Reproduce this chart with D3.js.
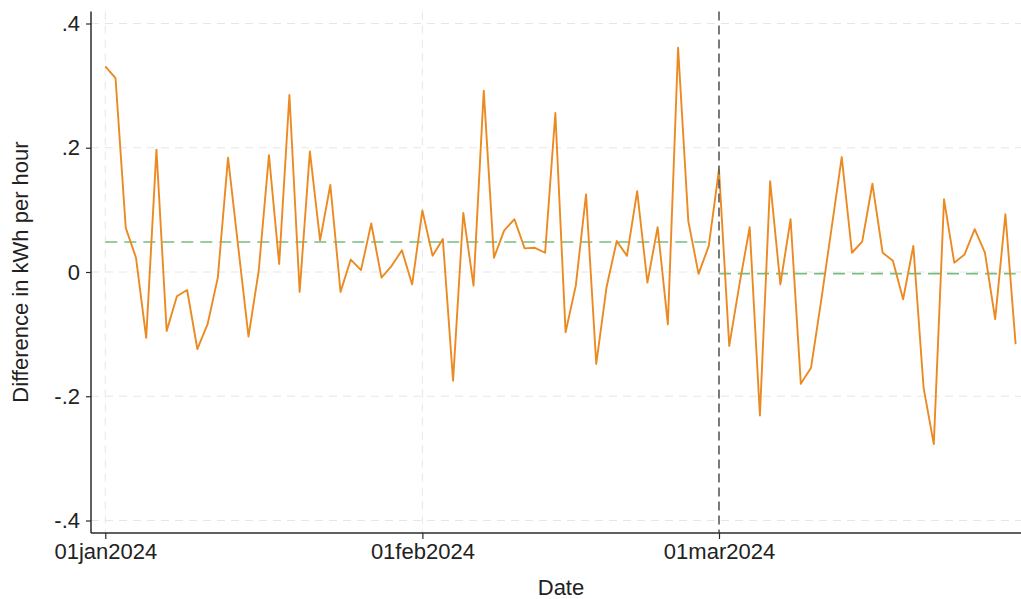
<!DOCTYPE html>
<html>
<head>
<meta charset="utf-8">
<script src="https://cdn.jsdelivr.net/npm/d3@7"></script>
<style>
  html, body { margin: 0; padding: 0; background: #fff; }
  svg { display: block; font-family: "Liberation Sans", Arial, Helvetica, sans-serif; }
</style>
</head>
<body>
<svg id="chart" width="1021" height="599"></svg>
<script>
// Daily difference in electricity use (kWh per hour), 1 Jan – 30 Mar 2024
const startDay = "2024-01-01";
const breakDay = "2024-03-01";
const dailyDiff = [
  0.331, 0.312, 0.071, 0.023, -0.106, 0.197, -0.095, -0.039, -0.029, -0.124,
  -0.084, -0.009, 0.184, 0.040, -0.104, 0.002, 0.188, 0.013, 0.285, -0.032,
  0.194, 0.051, 0.140, -0.032, 0.020, 0.003, 0.078, -0.009, 0.010, 0.035,
  -0.020, 0.099, 0.026, 0.053, -0.175, 0.095, -0.022, 0.292, 0.023, 0.067,
  0.085, 0.038, 0.039, 0.031, 0.256, -0.097, -0.022, 0.125, -0.148, -0.025,
  0.050, 0.026, 0.130, -0.017, 0.072, -0.084, 0.361, 0.082, -0.003, 0.042,
  0.165, -0.119, -0.020, 0.072, -0.231, 0.146, -0.020, 0.085, -0.180, -0.154,
  -0.045, 0.070, 0.185, 0.031, 0.049, 0.142, 0.031, 0.018, -0.044, 0.042,
  -0.186, -0.277, 0.117, 0.015, 0.028, 0.069, 0.031, -0.076, 0.093, -0.116
];
const yTicks = [-0.4, -0.2, 0, 0.2, 0.4];
const yTickLabels = ["-.4", "-.2", "0", ".2", ".4"];
const xTickDays = ["2024-01-01", "2024-02-01", "2024-03-01"];
const xTickLabels = ["01jan2024", "01feb2024", "01mar2024"];

const parseDay = d3.utcParse("%Y-%m-%d");
const t0 = parseDay(startDay);
const tBreak = parseDay(breakDay);
const data = dailyDiff.map((v, i) => ({ date: d3.utcDay.offset(t0, i), value: v }));
const pre = data.filter(d => d.date < tBreak);
const post = data.filter(d => d.date >= tBreak);
const periods = [
  { from: pre[0].date, to: pre[pre.length - 1].date, mean: d3.mean(pre, d => d.value) },
  { from: post[0].date, to: post[post.length - 1].date, mean: d3.mean(post, d => d.value) }
];

const svg = d3.select("#chart");
const plot = { left: 91, right: 1021, top: 11.5, bottom: 533 };

const x = d3.scaleUtc().domain([t0, tBreak]).range([105.3, 719]);
const y = d3.scaleLinear().domain([-0.4, 0.4]).range([520.5, 23.5]);

// grid lines
const grid = svg.append("g").attr("stroke", "#e6e6e6").attr("stroke-width", 1)
  .attr("stroke-dasharray", "8,6").attr("fill", "none");
grid.selectAll("line.h").data(yTicks).join("line").attr("class", "h")
  .attr("x1", plot.left).attr("x2", plot.right)
  .attr("y1", d => y(d)).attr("y2", d => y(d));
grid.selectAll("line.v").data(xTickDays.slice(0, 2).map(parseDay)).join("line").attr("class", "v")
  .attr("x1", d => x(d)).attr("x2", d => x(d))
  .attr("y1", plot.top).attr("y2", plot.bottom);

// period means
svg.append("g").selectAll("line").data(periods).join("line")
  .attr("x1", d => x(d.from)).attr("x2", d => x(d.to))
  .attr("y1", d => y(d.mean)).attr("y2", d => y(d.mean))
  .attr("stroke", "#78bd80").attr("stroke-width", 1.6)
  .attr("stroke-dasharray", "12,7");

// series
svg.append("path").datum(data)
  .attr("fill", "none")
  .attr("stroke", "#ec8a22")
  .attr("stroke-width", 1.9)
  .attr("stroke-linejoin", "round")
  .attr("d", d3.line().x(d => x(d.date)).y(d => y(d.value)));

// policy start marker
svg.append("line")
  .attr("x1", x(tBreak)).attr("x2", x(tBreak))
  .attr("y1", plot.top).attr("y2", plot.bottom)
  .attr("stroke", "#5a5a5a").attr("stroke-width", 1.6)
  .attr("stroke-dasharray", "9,5");

// y axis
const yAxis = svg.append("g").attr("transform", `translate(${plot.left},0)`)
  .call(d3.axisLeft(y).tickValues(yTicks).tickSize(5).tickPadding(6)
    .tickFormat((d, i) => yTickLabels[i]));
yAxis.select(".domain").attr("d", `M0,${plot.top}V${plot.bottom}`).attr("stroke", "#2b2b2b").attr("stroke-width", 1.5);
yAxis.selectAll(".tick line").attr("stroke", "#2b2b2b").attr("stroke-width", 1.2);
yAxis.selectAll(".tick text").attr("font-size", 22).attr("fill", "#222").attr("font-family", null);

// x axis
const xAxis = svg.append("g").attr("transform", `translate(0,${plot.bottom})`)
  .call(d3.axisBottom(x).tickValues(xTickDays.map(parseDay)).tickSize(6).tickPadding(4.5)
    .tickFormat((d, i) => xTickLabels[i]));
xAxis.select(".domain").attr("d", `M${plot.left},0H${plot.right}`).attr("stroke", "#2b2b2b").attr("stroke-width", 1.5);
xAxis.selectAll(".tick line").attr("stroke", "#2b2b2b").attr("stroke-width", 1.2);
xAxis.selectAll(".tick text").attr("font-size", 22).attr("fill", "#222").attr("font-family", null);

// axis titles
svg.append("text")
  .attr("transform", `translate(28,272) rotate(-90)`)
  .attr("text-anchor", "middle")
  .attr("font-size", 22).attr("fill", "#222")
  .text("Difference in kWh per hour");
svg.append("text")
  .attr("x", 561).attr("y", 595)
  .attr("text-anchor", "middle")
  .attr("font-size", 22).attr("fill", "#222")
  .text("Date");
</script>
</body>
</html>
